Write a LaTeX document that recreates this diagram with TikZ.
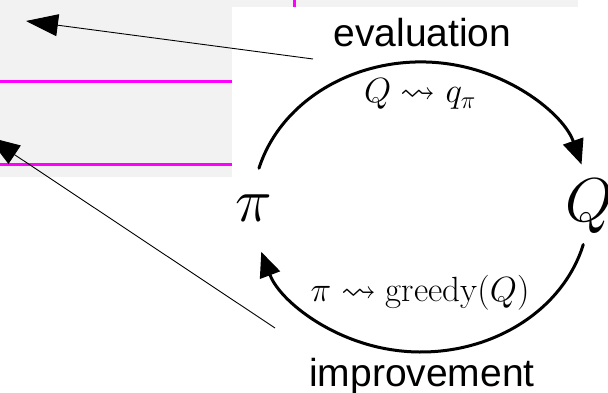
\documentclass[tikz,border=0pt]{standalone}
\usepackage{fix-cm}
\usepackage{amsmath,amssymb}
\usepackage{fontspec}
\newfontfamily\helv{Liberation Sans}
\usetikzlibrary{arrows.meta}
\definecolor{panelgray}{HTML}{F2F2F2}
\definecolor{magline}{HTML}{FF00FF}
\tikzset{
  panel/.style={fill=panelgray, draw=none},
  magrule/.style={draw=magline, line width=3pt},
  pointer/.style={draw=black, line width=0.9pt, -{Triangle[length=32pt,width=22pt]}},
  cyclearrow/.style={draw=black, line width=3pt, line cap=round, -{Triangle[length=25pt,width=21pt]}},
  bigsym/.style={inner sep=0pt, anchor=base, font=\fontsize{62}{62}\selectfont},
  mathlabel/.style={inner sep=0pt, anchor=base, font=\fontsize{35}{35}\selectfont},
  wordlabel/.style={inner sep=0pt, anchor=base, font=\helv\fontsize{39}{39}\selectfont}
}
\begin{document}
\begin{tikzpicture}[x=1pt,y=-1pt]
\useasboundingbox (0,0) rectangle (608,393);
\clip (0,0) rectangle (608,393);
% background panels
\fill[panel] (0,0) rectangle (232,177);
\fill[panel] (232,0) rectangle (578,7);
\draw[magrule] (0,81.5) -- (232,81.5);
\draw[magrule] (0,165) -- (232,165);
\draw[magrule] (294,0) -- (294,7);
% main symbols
\node[bigsym] (pi) at (254,222) {$\pi$};
\node[bigsym, anchor=base west] (Q) at (565,222) {$Q$};
% labels
\node[wordlabel] (evaluation) at (422.5,47) {evaluation};
\node[wordlabel] (improvement) at (422,386) {improvement};
\node[mathlabel] (evalmap) at (420,103) {$Q \rightsquigarrow q_\pi$};
\node[mathlabel] (impmap) at (420,301) {$\pi \rightsquigarrow \mathrm{greedy}(Q)$};
% cycle arcs (ellipse centre (421,207), radii 168 x 145)
\coordinate (upStart) at (259,168.2);
\coordinate (lowStart) at (583.3,244.5);
\draw[cyclearrow] (upStart) arc[start angle=-164.5, end angle=-17, x radius=168, y radius=145];
\draw[cyclearrow] (lowStart) arc[start angle=15, end angle=162, x radius=168, y radius=145];
% pointer arrows
\coordinate (evalTail) at (313,59);
\coordinate (evalTip) at (26,21);
\coordinate (impTail) at (275,328);
\coordinate (impTip) at (-12,137);
\draw[pointer] (evalTail) -- (evalTip);
\draw[pointer] (impTail) -- (impTip);
\end{tikzpicture}
\end{document}
